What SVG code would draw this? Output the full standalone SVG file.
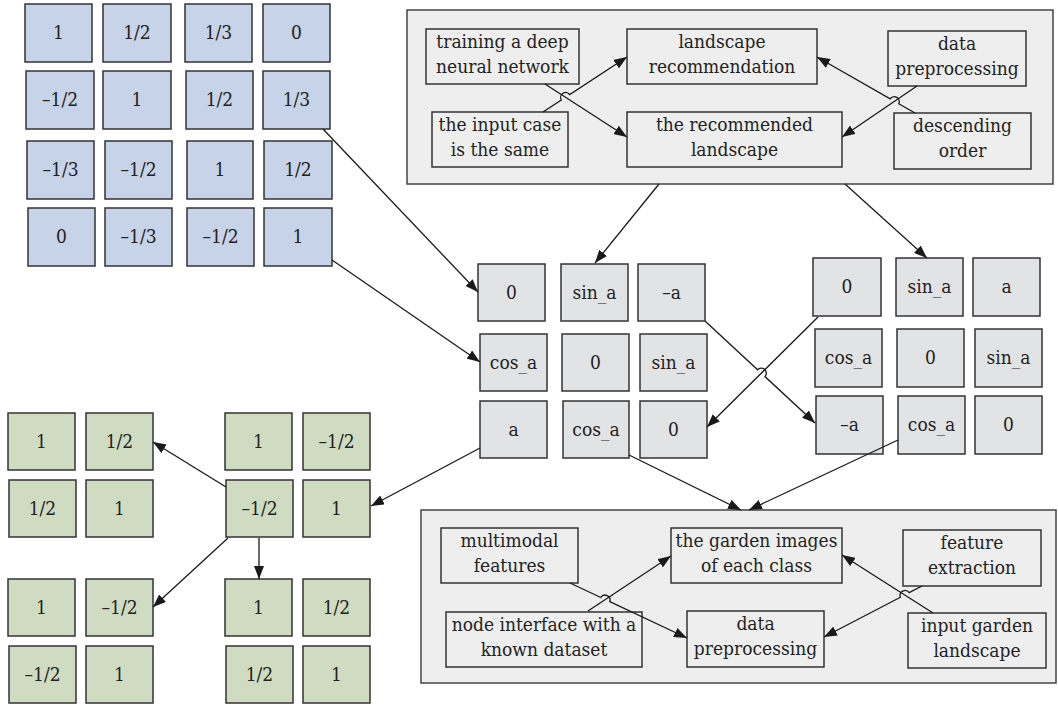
<svg xmlns="http://www.w3.org/2000/svg" width="1058" height="705" viewBox="0 0 1058 705">
<style>
.b{fill:#c6d3e8;stroke:#333;stroke-width:1.5}
.g{fill:#cfdcc2;stroke:#333;stroke-width:1.5}
.m{fill:#e2e3e5;stroke:#333;stroke-width:1.5}
.c{fill:#eeeeee;stroke:#444;stroke-width:1.5}
.t{fill:#eeeeee;stroke:#333;stroke-width:1.5}
text{fill:#222;text-anchor:middle}
.n{font-size:19px;font-family:"DejaVu Serif Condensed","DejaVu Serif",serif;font-stretch:condensed}
.l{font-size:19px;font-family:"DejaVu Serif Condensed","DejaVu Serif",serif;font-stretch:condensed}
.a{fill:none;stroke:#1a1a1a;stroke-width:1.3;marker-end:url(#ah)}
</style>
<defs>
<marker id="ah" markerUnits="userSpaceOnUse" markerWidth="14" markerHeight="10" refX="13" refY="5" orient="auto"><path d="M0,0 L13,5 L0,10 z" fill="#1a1a1a"/></marker>
</defs>
<rect width="1058" height="705" fill="#fff"/>
<g id="blue-grid">
<g id="b11"><rect class="b" x="25" y="4" width="67" height="58"/><text class="n" x="58.5" y="39">1</text></g>
<g id="b12"><rect class="b" x="103" y="4" width="68" height="58"/><text class="n" x="137" y="39">1/2</text></g>
<g id="b13"><rect class="b" x="185" y="4" width="67" height="58"/><text class="n" x="218.5" y="39">1/3</text></g>
<g id="b14"><rect class="b" x="263" y="4" width="67" height="58"/><text class="n" x="296.5" y="39">0</text></g>
<g id="b21"><rect class="b" x="26" y="71" width="68" height="58"/><text class="n" x="60" y="106">–1/2</text></g>
<g id="b22"><rect class="b" x="103" y="71" width="68" height="58"/><text class="n" x="137" y="106">1</text></g>
<g id="b23"><rect class="b" x="186" y="71" width="67" height="58"/><text class="n" x="219.5" y="106">1/2</text></g>
<g id="b24"><rect class="b" x="263" y="71" width="67" height="58"/><text class="n" x="296.5" y="106">1/3</text></g>
<g id="b31"><rect class="b" x="27" y="141" width="67" height="58"/><text class="n" x="60.5" y="176">–1/3</text></g>
<g id="b32"><rect class="b" x="105" y="141" width="67" height="58"/><text class="n" x="138.5" y="176">–1/2</text></g>
<g id="b33"><rect class="b" x="187" y="141" width="66" height="58"/><text class="n" x="220" y="176">1</text></g>
<g id="b34"><rect class="b" x="264" y="141" width="68" height="58"/><text class="n" x="298" y="176">1/2</text></g>
<g id="b41"><rect class="b" x="28" y="208" width="67" height="58"/><text class="n" x="61.5" y="243">0</text></g>
<g id="b42"><rect class="b" x="105" y="208" width="67" height="58"/><text class="n" x="138.5" y="243">–1/3</text></g>
<g id="b43"><rect class="b" x="187" y="208" width="67" height="58"/><text class="n" x="220.5" y="243">–1/2</text></g>
<g id="b44"><rect class="b" x="264" y="208" width="68" height="58"/><text class="n" x="298" y="243">1</text></g>
</g>

<g id="top-panel">
<rect class="c" x="407" y="10" width="646" height="174"/>
<g id="t-training"><rect class="t" x="426" y="29" width="153" height="55"/><text class="l" x="502.5" y="48">training a deep</text><text class="l" x="502.5" y="73">neural network</text></g>
<g id="t-input"><rect class="t" x="432" y="112" width="136" height="55"/><text class="l" x="500" y="131">the input case</text><text class="l" x="500" y="156">is the same</text></g>
<g id="t-landrec"><rect class="t" x="627" y="29" width="190" height="55"/><text class="l" x="722" y="48">landscape</text><text class="l" x="722" y="73">recommendation</text></g>
<g id="t-recland"><rect class="t" x="627" y="112" width="215" height="55"/><text class="l" x="734.5" y="131">the recommended</text><text class="l" x="734.5" y="156">landscape</text></g>
<g id="t-dataprep"><rect class="t" x="888" y="31" width="138" height="55"/><text class="l" x="957" y="50">data</text><text class="l" x="957" y="75">preprocessing</text></g>
<g id="t-desc"><rect class="t" x="894" y="113" width="137" height="56"/><text class="l" x="962.5" y="132">descending</text><text class="l" x="962.5" y="157">order</text></g>
</g>

<g id="mid-left-grid">
<g id="ml11"><rect class="m" x="478" y="264" width="67" height="57"/><text class="n" x="511.5" y="299">0</text></g>
<g id="ml12"><rect class="m" x="561" y="264" width="67" height="57"/><text class="n" x="594.5" y="299">sin_a</text></g>
<g id="ml13"><rect class="m" x="638" y="264" width="67" height="57"/><text class="n" x="671.5" y="299">–a</text></g>
<g id="ml21"><rect class="m" x="480" y="334" width="67" height="57"/><text class="n" x="513.5" y="369">cos_a</text></g>
<g id="ml22"><rect class="m" x="562" y="334" width="67" height="57"/><text class="n" x="595.5" y="369">0</text></g>
<g id="ml23"><rect class="m" x="640" y="334" width="67" height="57"/><text class="n" x="673.5" y="369">sin_a</text></g>
<g id="ml31"><rect class="m" x="480" y="401" width="67" height="57"/><text class="n" x="513.5" y="436">a</text></g>
<g id="ml32"><rect class="m" x="563" y="401" width="66" height="57"/><text class="n" x="596" y="436">cos_a</text></g>
<g id="ml33"><rect class="m" x="640" y="401" width="67" height="57"/><text class="n" x="673.5" y="436">0</text></g>
</g>

<g id="mid-right-grid">
<g id="mr11"><rect class="m" x="813" y="258" width="68" height="58"/><text class="n" x="847" y="293">0</text></g>
<g id="mr12"><rect class="m" x="896" y="258" width="67" height="58"/><text class="n" x="929.5" y="293">sin_a</text></g>
<g id="mr13"><rect class="m" x="973" y="258" width="67" height="58"/><text class="n" x="1006.5" y="293">a</text></g>
<g id="mr21"><rect class="m" x="815" y="329" width="67" height="58"/><text class="n" x="848.5" y="364">cos_a</text></g>
<g id="mr22"><rect class="m" x="897" y="329" width="67" height="58"/><text class="n" x="930.5" y="364">0</text></g>
<g id="mr23"><rect class="m" x="975" y="329" width="67" height="58"/><text class="n" x="1008.5" y="364">sin_a</text></g>
<g id="mr31"><rect class="m" x="816" y="396" width="67" height="58"/><text class="n" x="849.5" y="431">–a</text></g>
<g id="mr32"><rect class="m" x="898" y="396" width="67" height="58"/><text class="n" x="931.5" y="431">cos_a</text></g>
<g id="mr33"><rect class="m" x="975" y="396" width="67" height="58"/><text class="n" x="1008.5" y="431">0</text></g>
</g>

<g id="green-grid">
<g id="gTL11"><rect class="g" x="8" y="413" width="67" height="57"/><text class="n" x="41.5" y="448">1</text></g>
<g id="gTL12"><rect class="g" x="86" y="413" width="67" height="57"/><text class="n" x="119.5" y="448">1/2</text></g>
<g id="gTL21"><rect class="g" x="9" y="480" width="67" height="57"/><text class="n" x="42.5" y="515">1/2</text></g>
<g id="gTL22"><rect class="g" x="86" y="480" width="67" height="57"/><text class="n" x="119.5" y="515">1</text></g>
<g id="gTR11"><rect class="g" x="225" y="413" width="67" height="57"/><text class="n" x="258.5" y="448">1</text></g>
<g id="gTR12"><rect class="g" x="303" y="413" width="67" height="57"/><text class="n" x="336.5" y="448">–1/2</text></g>
<g id="gTR21"><rect class="g" x="226" y="480" width="67" height="57"/><text class="n" x="259.5" y="515">–1/2</text></g>
<g id="gTR22"><rect class="g" x="303" y="480" width="67" height="57"/><text class="n" x="336.5" y="515">1</text></g>
<g id="gBL11"><rect class="g" x="8" y="579" width="67" height="57"/><text class="n" x="41.5" y="614">1</text></g>
<g id="gBL12"><rect class="g" x="86" y="579" width="67" height="57"/><text class="n" x="119.5" y="614">–1/2</text></g>
<g id="gBL21"><rect class="g" x="9" y="646" width="67" height="57"/><text class="n" x="42.5" y="681">–1/2</text></g>
<g id="gBL22"><rect class="g" x="86" y="646" width="67" height="57"/><text class="n" x="119.5" y="681">1</text></g>
<g id="gBR11"><rect class="g" x="225" y="579" width="67" height="57"/><text class="n" x="258.5" y="614">1</text></g>
<g id="gBR12"><rect class="g" x="303" y="579" width="67" height="57"/><text class="n" x="336.5" y="614">1/2</text></g>
<g id="gBR21"><rect class="g" x="226" y="646" width="67" height="57"/><text class="n" x="259.5" y="681">1/2</text></g>
<g id="gBR22"><rect class="g" x="303" y="646" width="67" height="57"/><text class="n" x="336.5" y="681">1</text></g>
</g>

<g id="bottom-panel">
<rect class="c" x="421" y="510" width="635" height="173"/>
<g id="bt-multi"><rect class="t" x="441" y="528" width="137" height="55"/><text class="l" x="509.5" y="547">multimodal</text><text class="l" x="509.5" y="572">features</text></g>
<g id="bt-node"><rect class="t" x="446" y="612" width="196" height="55"/><text class="l" x="544" y="631">node interface with a</text><text class="l" x="544" y="656">known dataset</text></g>
<g id="bt-garden"><rect class="t" x="671" y="528" width="171" height="55"/><text class="l" x="756.5" y="547">the garden images</text><text class="l" x="756.5" y="572">of each class</text></g>
<g id="bt-dataprep"><rect class="t" x="687" y="611" width="137" height="56"/><text class="l" x="755.5" y="630">data</text><text class="l" x="755.5" y="655">preprocessing</text></g>
<g id="bt-feature"><rect class="t" x="903" y="530" width="138" height="56"/><text class="l" x="972" y="549">feature</text><text class="l" x="972" y="574">extraction</text></g>
<g id="bt-inputgarden"><rect class="t" x="908" y="613" width="138" height="55"/><text class="l" x="977" y="632">input garden</text><text class="l" x="977" y="657">landscape</text></g>
</g>

<g id="connectors">
<path class="a" d="M545,84 L627,137"/>
<path class="a" d="M543,112 L561.3,100 A5,5 0 0,1 569.7,94.6 L627,57"/>
<path class="a" d="M917,86 L842,137"/>
<path class="a" d="M915,113 L898.8,103.8 A5,5 0 0,0 890.2,98.8 L817,57"/>
<path class="a" d="M659,184 L595,263"/>
<path class="a" d="M845,184 L927,258"/>
<path class="a" d="M323,129 L478,292"/>
<path class="a" d="M332,260 L480,362"/>
<path class="a" d="M705,321 L757.6,369.8 A5,5 0 0,1 765,376.6 L815,423"/>
<path class="a" d="M818,317 L707,427"/>
<path class="a" d="M629,455 L741,510"/>
<path class="a" d="M898,440 L749,510"/>
<path class="a" d="M480,448 L371,506"/>
<path class="a" d="M226,487 L153,442"/>
<path class="a" d="M228,538 L153,607"/>
<path class="a" d="M259,538 L259,579"/>
<path class="a" d="M588,611 L671,556"/>
<path class="a" d="M570,583 L600.8,597.5 A5,5 0 0,1 609.8,601.7 L687,638"/>
<path class="a" d="M933,613 L842,555"/>
<path class="a" d="M922,586 L909.2,592.7 A5,5 0 0,0 900.4,597.3 L824,637"/>
</g>
</svg>
